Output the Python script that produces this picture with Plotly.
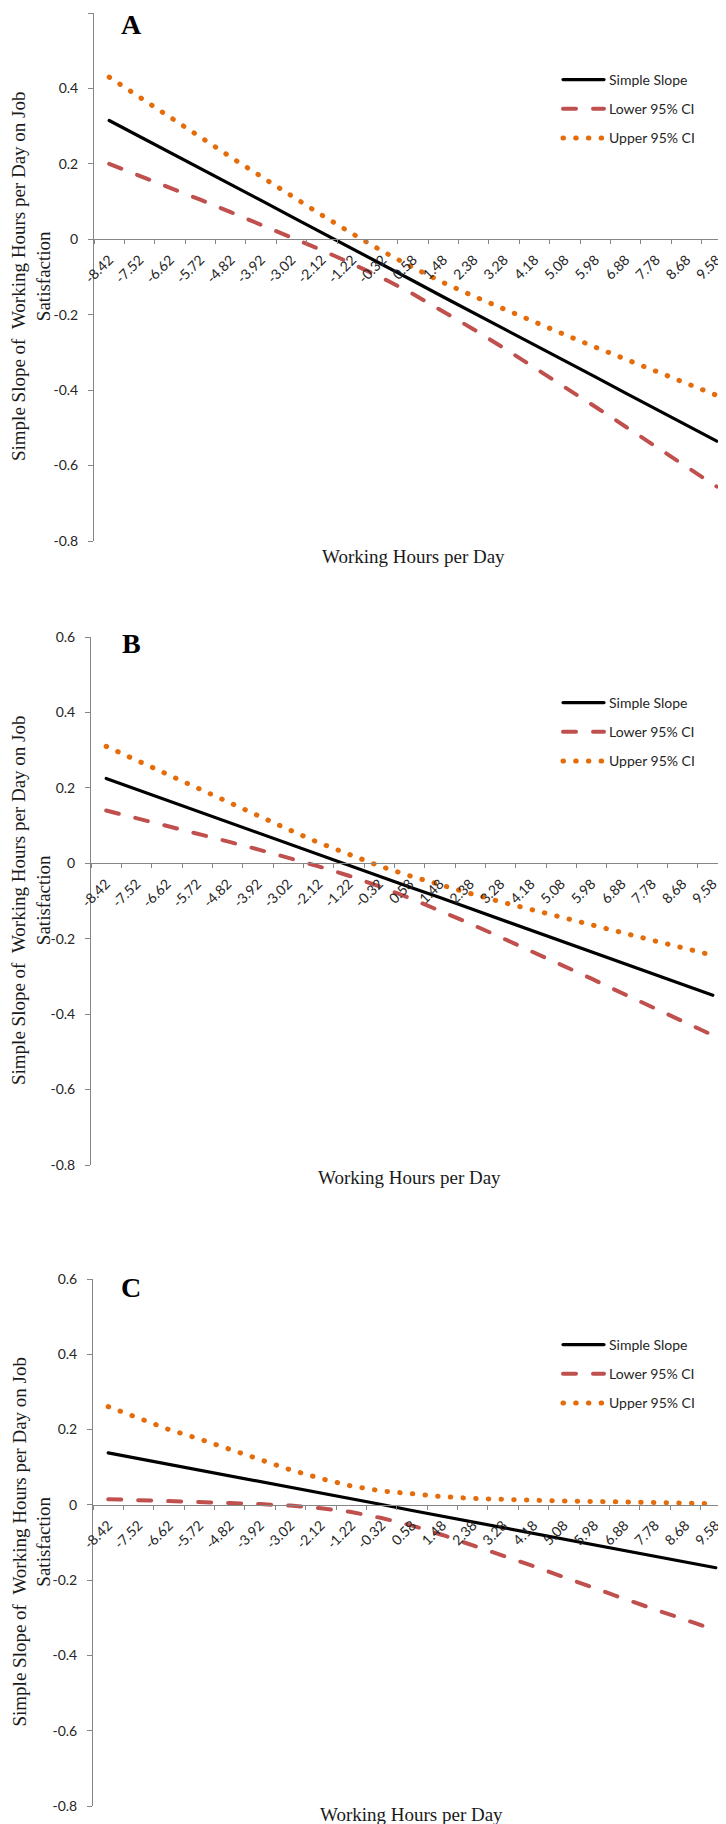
import plotly.graph_objects as go

W, H = 726, 1824

# ------------------------------------------------------------------
# data
# ------------------------------------------------------------------
hours = ["-8.42", "-7.52", "-6.62", "-5.72", "-4.82", "-3.92", "-3.02", "-2.12", "-1.22", "-0.32",
         "0.58", "1.48", "2.38", "3.28", "4.18", "5.08", "5.98", "6.88", "7.78", "8.68", "9.58"]

simple_a = [0.315, 0.273, 0.230, 0.188, 0.145, 0.103, 0.060, 0.018, -0.025, -0.068, -0.110,
            -0.153, -0.195, -0.238, -0.280, -0.323, -0.365, -0.408, -0.450, -0.493, -0.535]
lower_a = [0.200, 0.169, 0.137, 0.105, 0.072, 0.039, 0.006, -0.029, -0.065, -0.103, -0.145,
           -0.191, -0.239, -0.289, -0.340, -0.392, -0.444, -0.497, -0.550, -0.603, -0.656]
upper_a = [0.430, 0.376, 0.323, 0.271, 0.218, 0.166, 0.114, 0.064, 0.015, -0.032, -0.075,
           -0.115, -0.151, -0.186, -0.220, -0.253, -0.286, -0.318, -0.350, -0.382, -0.414]

simple_b = [0.225, 0.196, 0.168, 0.139, 0.110, 0.081, 0.053, 0.024, -0.005, -0.034, -0.063,
            -0.091, -0.120, -0.149, -0.178, -0.206, -0.235, -0.264, -0.293, -0.321, -0.350]
lower_b = [0.140, 0.120, 0.100, 0.079, 0.058, 0.037, 0.015, -0.008, -0.033, -0.061, -0.092,
           -0.125, -0.160, -0.196, -0.232, -0.269, -0.306, -0.344, -0.381, -0.419, -0.456]
upper_b = [0.310, 0.273, 0.236, 0.198, 0.162, 0.125, 0.090, 0.055, 0.023, -0.007, -0.033,
           -0.058, -0.080, -0.102, -0.123, -0.143, -0.164, -0.184, -0.204, -0.224, -0.244]

simple_c = [0.138, 0.123, 0.108, 0.092, 0.077, 0.062, 0.047, 0.031, 0.016, 0.001, -0.015,
            -0.030, -0.045, -0.060, -0.076, -0.091, -0.106, -0.121, -0.137, -0.152, -0.167]
lower_c = [0.015, 0.013, 0.011, 0.008, 0.005, 0.002, -0.002, -0.009, -0.019, -0.035, -0.055,
           -0.080, -0.107, -0.135, -0.163, -0.192, -0.222, -0.250, -0.278, -0.305, -0.333]
upper_c = [0.261, 0.230, 0.200, 0.175, 0.147, 0.120, 0.093, 0.070, 0.050, 0.037, 0.028,
           0.022, 0.017, 0.014, 0.012, 0.010, 0.009, 0.008, 0.007, 0.005, 0.003]

y_ticks = [0.6, 0.4, 0.2, 0, -0.2, -0.4, -0.6, -0.8]
y_ticktext = ["0.6", "0.4", "0.2", "0", "-0.2", "-0.4", "-0.6", "-0.8"]

panel_letters = ["A", "B", "C"]
series_names = ["Simple Slope", "Lower 95% CI", "Upper 95% CI"]
x_title = "Working Hours per Day"
y_title = "Simple Slope of &nbsp;Working Hours per Day on Job<br>Satisfaction"

# ------------------------------------------------------------------
# styling / layout (pixels in the 726 x 1824 page)
# ------------------------------------------------------------------
BLACK = "#000000"
TXT = "#262626"
RED = "#C0504D"
ORANGE = "#E46C0A"
GRAY = "#868686"
SANS = "Lato, Calibri, 'Open Sans', sans-serif"
SERIF = "'Liberation Serif', 'Times New Roman', serif"

line_styles = [
    dict(color=BLACK, width=3.2),
    dict(color=RED, width=4, dash="13px,17px"),
    dict(color=ORANGE, width=5, dash="0.5px,12.2px"),
]

# top, bottom, left, right of each plot frame
frames = [(5, 533, 86, 724), (629, 1157, 83, 720), (1271, 1798, 85, 723)]
legend_tops = [56, 679, 1321]
letter_y = [16, 635, 1279]
xtitle_y = [548, 1169, 1806]
YMIN, YMAX = -0.8, 0.6

series = [(simple_a, lower_a, upper_a), (simple_b, lower_b, upper_b), (simple_c, lower_c, upper_c)]

fig = go.Figure()
layout = {}
annotations = []

for i, (vals, (top, bot, left, right)) in enumerate(zip(series, frames)):
    n = i + 1
    sfx = "" if n == 1 else str(n)
    lg = "legend" if n == 1 else f"legend{n}"

    for name, ys, st in zip(series_names, vals, line_styles):
        fig.add_trace(go.Scatter(
            x=hours, y=ys, mode="lines", name=name, line=st,
            xaxis="x" + sfx, yaxis="y" + sfx, legend=lg,
            legendgroup=f"{n}-{name}", hoverinfo="skip",
        ))

    y0, y1 = 1 - bot / H, 1 - top / H
    zero = y0 + (0 - YMIN) / (YMAX - YMIN) * (y1 - y0)

    layout["xaxis" + sfx] = dict(
        domain=[left / W, right / W], anchor="free", position=zero,
        type="category", range=[-0.5, len(hours) - 0.5],
        tickson="boundaries", ticks="outside", ticklen=4, tickcolor=GRAY, tickwidth=1,
        ticklabelstandoff=6,
        showline=True, linecolor=GRAY, linewidth=1,
        tickangle=-45, tickfont=dict(family=SANS, size=14, color=TXT),
        showgrid=False, zeroline=False, automargin=False, fixedrange=True,
    )
    layout["yaxis" + sfx] = dict(
        domain=[y0, y1], anchor="x" + sfx, range=[YMIN, YMAX],
        tickvals=y_ticks, ticktext=y_ticktext,
        ticks="outside", ticklen=5, tickcolor=GRAY, tickwidth=1, ticklabelstandoff=7,
        showline=True, linecolor=GRAY, linewidth=1,
        tickfont=dict(family=SANS, size=14, color=TXT),
        showgrid=False, zeroline=False, automargin=False, fixedrange=True,
    )
    layout[lg] = dict(
        x=550 / W, y=1 - legend_tops[i] / H, xanchor="left", yanchor="top",
        bgcolor="rgba(0,0,0,0)", font=dict(family=SANS, size=14, color=TXT),
        tracegroupgap=8, itemwidth=41,
    )

    annotations += [
        dict(text=f"<b>{panel_letters[i]}</b>", x=123 / W, y=1 - letter_y[i] / H,
             font=dict(family=SERIF, size=28, color=BLACK)),
        dict(text=x_title, x=(left + right) / 2 / W, y=1 - xtitle_y[i] / H,
             font=dict(family=SERIF, size=19, color="#1a1a1a")),
        dict(text=y_title, x=23 / W, y=1 - (top + bot) / 2 / H, textangle=-90,
             font=dict(family=SERIF, size=19, color="#1a1a1a")),
    ]

for a in annotations:
    a.update(xref="paper", yref="paper", showarrow=False, xanchor="center", yanchor="middle")

fig.update_layout(
    width=W, height=H, autosize=False,
    margin=dict(l=0, r=0, t=0, b=0),
    paper_bgcolor="white", plot_bgcolor="white",
    annotations=annotations, showlegend=True,
    **layout,
)

# round line caps, as in the original (dots become round dots)
post = """
var gd = document.getElementById('{plot_id}');
function rc(){ gd.querySelectorAll('path.js-line').forEach(function(p){ p.style.strokeLinecap='round'; }); }
rc(); if (gd.on) gd.on('plotly_afterplot', rc); setTimeout(rc, 300);
"""

fig.write_html("out.html", post_script=post)
